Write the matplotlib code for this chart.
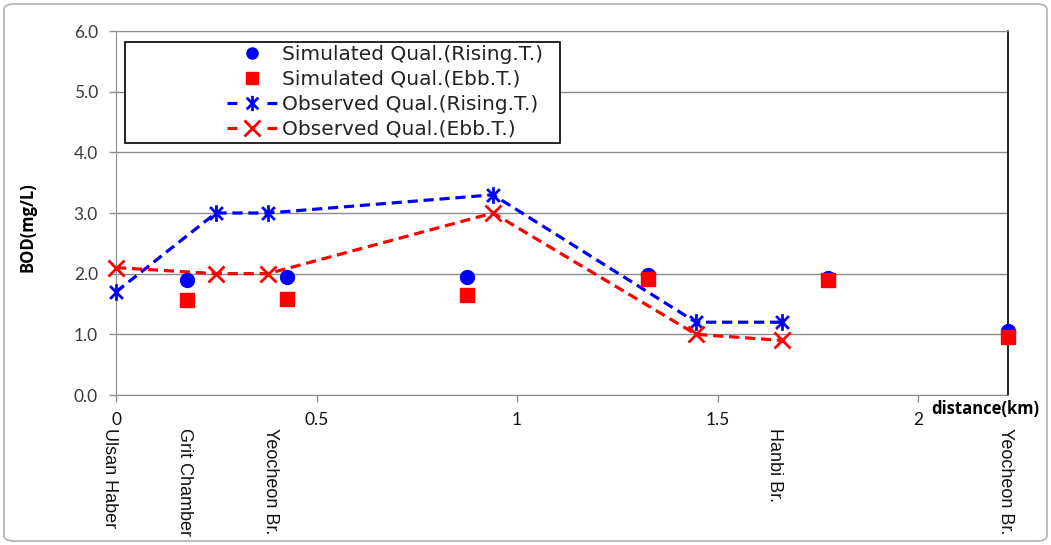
import matplotlib.pyplot as plt
from matplotlib.path import Path
from matplotlib.patches import Rectangle, FancyBboxPatch

# observed points (distance km, BOD mg/L)
obs_x = [0.0, 0.249, 0.379, 0.940, 1.446, 1.661]
obs_rise = [1.7, 3.0, 3.0, 3.3, 1.2, 1.2]
obs_ebb = [2.1, 2.0, 2.0, 3.0, 1.0, 0.9]

# simulated points
sim_x = [0.177, 0.426, 0.875, 1.327, 1.776, 2.224]
sim_rise = [1.90, 1.94, 1.94, 1.98, 1.93, 1.05]
sim_ebb = [1.56, 1.58, 1.65, 1.92, 1.90, 0.96]

# station names under the axis
station_x = [-0.015, 0.172, 0.384, 1.643, 2.217]
station_names = ["Ulsan Haber", "Grit Chamber", "Yeocheon Br.", "Hanbi Br.", "Yeocheon Br."]

xticks = [0, 0.5, 1, 1.5, 2]
xtick_labels = ["0", "0.5", "1", "1.5", "2"]
yticks = [0, 1, 2, 3, 4, 5, 6]

txt_col = '#3a3a3a'

# asterisk marker: X with a vertical bar
ast = Path([(-1, -1), (1, 1), (-1, 1), (1, -1), (0, -1.3), (0, 1.3)],
           [Path.MOVETO, Path.LINETO, Path.MOVETO, Path.LINETO, Path.MOVETO, Path.LINETO])

fig = plt.figure(figsize=(10.51, 5.45), dpi=100)
ax = fig.add_axes([116/1051, 1-395/545, (1008-116)/1051, (395-31)/545])

ax.plot(sim_x, sim_rise, 'o', color='#0000FF', ms=10, ls='none', label="Simulated Qual.(Rising.T.)",
        zorder=4, clip_on=False)
ax.plot(sim_x, sim_ebb, 's', color='#FF0000', ms=10.5, ls='none', label="Simulated Qual.(Ebb.T.)",
        zorder=5, clip_on=False)
ax.plot(obs_x, obs_rise, color='#0000FF', lw=2.3, dashes=(3.2, 1.8), marker=ast, ms=12,
        mew=2, label="Observed Qual.(Rising.T.)", zorder=3, clip_on=False)
ax.plot(obs_x, obs_ebb, color='#FF0000', lw=2.3, dashes=(3.2, 1.8), marker='x', ms=12,
        mew=2, label="Observed Qual.(Ebb.T.)", zorder=3, clip_on=False)

ax.set_xlim(0, 2.224)
ax.set_ylim(0, 6)
ax.set_yticks(yticks)
ax.set_yticklabels([f"{v:.1f}" for v in yticks], fontsize=12.5, family='Lato', color=txt_col)
ax.set_xticks(xticks)
ax.set_xticklabels(xtick_labels, fontsize=12.5, family='Lato', color='#111111')
ax.grid(axis='y', color='#8c8c8c', lw=1)
ax.set_axisbelow(True)
ax.tick_params(axis='both', color='#8c8c8c', length=5, width=1)
ax.tick_params(axis='x', pad=7)
ax.tick_params(axis='y', pad=8)
for s in ['left', 'bottom', 'top']:
    ax.spines[s].set_color('#8c8c8c')
ax.spines['right'].set_color('black')
ax.spines['right'].set_linewidth(1.2)

ax.set_ylabel("BOD(mg/L)", fontsize=12, fontweight='bold', family='Open Sans')
ax.yaxis.set_label_coords(-79/892, 0.46)
fig.text(985/1051, 1-409/545, "distance(km)", fontsize=12, fontweight='bold',
         family='Open Sans', ha='center', va='center')

for xs, name in zip(station_x, station_names):
    ax.text(xs, -0.55, name, rotation=270, ha='center', va='top', fontsize=13,
            family='Liberation Sans', color='#111111', clip_on=False)

# legend frame + legend
fig.patches.append(Rectangle((125/1051, 1-143/545), 435/1051, 101/545, transform=fig.transFigure,
                             fill=True, fc='white', ec='black', lw=1.2, zorder=6))
leg = fig.legend(loc='upper left', bbox_to_anchor=(219/1051, 1-37/545), frameon=False,
                 borderaxespad=0, prop={'family': 'DejaVu Sans', 'size': 14.5}, handlelength=2.5,
                 handletextpad=0.25, labelspacing=0.29, numpoints=1, labelcolor='#222222')
leg.set_zorder(7)
leg.legend_handles[0].set_markersize(8)
leg.legend_handles[1].set_markersize(9)
for h in leg.legend_handles[2:]:
    h.set_dashes((3.1, 9.4))
    h.set_markersize(11)

fig.patches.append(FancyBboxPatch((4/1051, 4/545), 1043/1051, 537/545, boxstyle='round,pad=0,rounding_size=0.01',
                                  transform=fig.transFigure, fill=False, ec='#b0b0b0', lw=1.2))

fig.savefig("out.png", dpi=100)
